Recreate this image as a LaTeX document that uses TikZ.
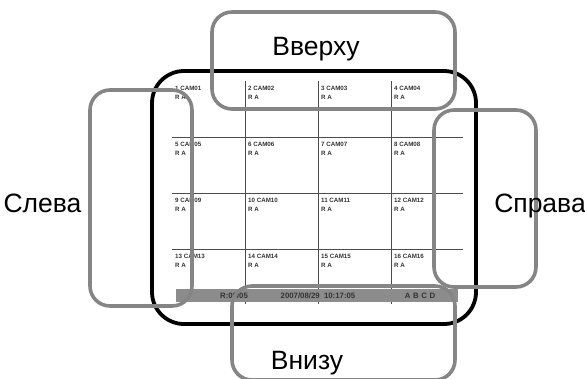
\documentclass[tikz,border=0pt]{standalone}
\usepackage{fontspec}
\setmainfont{Liberation Sans}
\begin{document}
\begin{tikzpicture}[x=1pt,y=-1pt,
  greybox/.style={draw=black!48,line width=3.6pt,rounded corners=20pt},
  screen/.style={draw=black,line width=3.8pt,rounded corners=32pt},
  gridline/.style={draw=black!70,line width=0.8pt},
  bigtext/.style={font=\fontsize{26.5}{30}\selectfont,anchor=base,inner sep=0pt},
  celltext/.style={font=\fontsize{6.2}{7}\selectfont\bfseries,text=black!80,anchor=base west,inner sep=0pt},
  bartext/.style={font=\fontsize{7.8}{9}\selectfont\bfseries,text=black!80,anchor=base,inner sep=0pt}]
\useasboundingbox (0,0) rectangle (585,378);
\clip (0,0) rectangle (585,378);
% screen outline
\draw[screen] (152,71) rectangle (476,324);
% grid
\foreach \x in {245,318,391} \draw[gridline] (\x,81) -- (\x,304);
\foreach \y in {137,193,249} \draw[gridline] (172,\y) -- (463,\y);
% status bar
\fill[black!45] (176,289) rectangle (458,302);
\node[bartext] (r) at (234,298.5) {R:00/05};
\node[bartext] (dt) at (318,298.5) {2007/08/29\ \ 10:17:05};
\node[bartext] (abcd) at (420,298.5) {A\,\,B\,\,C\,\,D};
% cell labels
\foreach \n [count=\i from 0] in {01,02,03,04,05,06,07,08,09,10,11,12,13,14,15,16} {
  \pgfmathtruncatemacro{\col}{mod(\i,4)}
  \pgfmathtruncatemacro{\row}{div(\i,4)}
  \pgfmathtruncatemacro{\num}{\i+1}
  \pgfmathsetmacro{\cx}{175+73*\col}
  \pgfmathsetmacro{\cy}{90+56*\row}
  \node[celltext] (c\num) at (\cx,\cy) {\num\ CAM\n};
  \node[celltext] (ra\num) at (\cx,\cy+9.2) {R A};
}
% grey boxes
\draw[greybox] (212,12) rectangle (455,109);
\draw[greybox] (90,90) rectangle (192,306);
\draw[greybox] (434,110) rectangle (536,287);
\draw[greybox] (232,286) rectangle (455,380);
% labels
\node[bigtext] (top) at (316,55.5) {Вверху};
\node[bigtext] (bottom) at (307,369.5) {Внизу};
\node[bigtext] (left) at (42.5,212) {Слева};
\node[bigtext] (right) at (540,212) {Справа};
\end{tikzpicture}
\end{document}
